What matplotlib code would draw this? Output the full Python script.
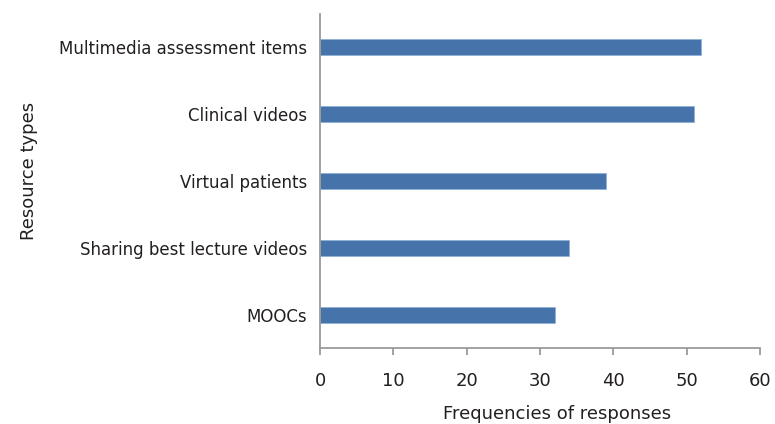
import matplotlib.pyplot as plt

categories = ["MOOCs", "Sharing best lecture videos", "Virtual patients",
              "Clinical videos", "Multimedia assessment items"]
responses = [32, 34, 39, 51, 52]
xticks = [0, 10, 20, 30, 40, 50, 60]

plt.rcParams["font.family"] = ["DejaVu Sans"]

text_color = "#231f20"
axis_color = "#9a9a9a"

fig = plt.figure(figsize=(7.75, 4.24), dpi=100)
ax = fig.add_axes([320 / 775, 1 - 348 / 424, 440 / 775, 334 / 424])

ax.barh(categories, responses, height=0.24, color="#4674aa",
        edgecolor="#8fb0d8", linewidth=0.6)

ax.set_xlim(0, 60)
ax.set_ylim(-0.5, 4.5)
ax.set_xticks(xticks)

for side in ["top", "right"]:
    ax.spines[side].set_visible(False)
for side in ["left", "bottom"]:
    ax.spines[side].set_color(axis_color)
    ax.spines[side].set_linewidth(1.3)

ax.tick_params(axis="y", length=0, pad=9, labelsize=12, labelcolor=text_color)
ax.tick_params(axis="x", length=5, width=1.3, color=axis_color, pad=12,
               labelsize=13, labelcolor=text_color)

ax.set_xlabel("Frequencies of responses", fontsize=13, color=text_color)
ax.xaxis.set_label_coords(0.538, -0.17)
ax.set_ylabel("Resource types", fontsize=13, color=text_color)
ax.yaxis.set_label_coords(-0.64, 0.53)

fig.savefig("out.png", dpi=100)
